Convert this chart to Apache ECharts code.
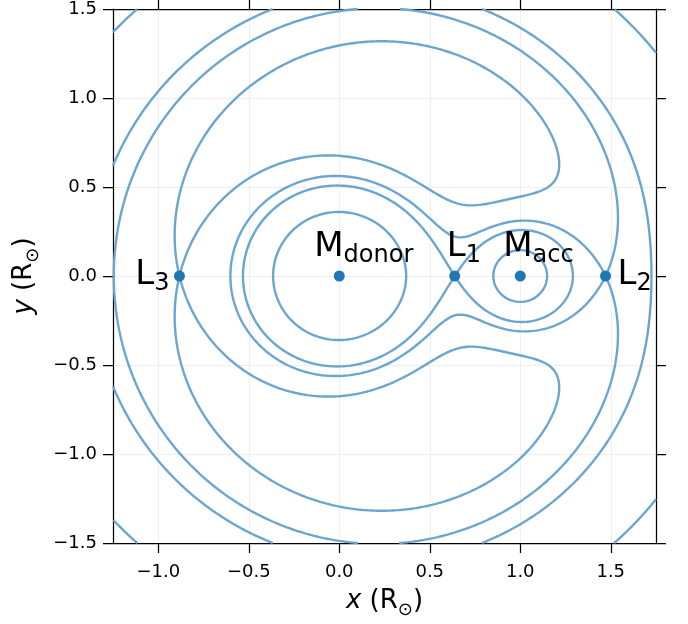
<!DOCTYPE html>
<html><head><meta charset="utf-8">
<script src="https://cdn.jsdelivr.net/npm/echarts@6/dist/echarts.min.js"></script>
<style>html,body{margin:0;padding:0;background:#fff}#c{width:688px;height:624px}</style>
</head><body><div id="c"></div>
<script>
// ---- data ----
const massRatio = [0.25];                 // M_acc / M_donor (separation = 1)
const pointMain = ['M', 'M', 'L', 'L', 'L'];
const pointSub  = ['donor', 'acc', '1', '2', '3'];
const pointX    = [0, 1, 0.638, 1.471, -0.883];
const pointY    = [0, 0, 0, 0, 0];
const extraLevels = [-3.12];              // innermost equipotential level
const levelThrough = ['1', '2', '3'];     // equipotentials through L1, L2, L3
const xTicks = [-1, -0.5, 0, 0.5, 1, 1.5];
const yTicks = [-1.5, -1, -0.5, 0, 0.5, 1, 1.5];
const xRange = [-1.25, 1.75];
const yRange = [-1.5, 1.5];

// ---- styles ----
const FONT = 'DejaVu Sans';
const LINE_COLOR = '#6ca6d0';
const DOT_COLOR = '#1f77b4';
const labelPlace = {
  donor: {align: 'left', verticalAlign: 'bottom', offset: [-25, -8]},
  acc:   {align: 'left', verticalAlign: 'bottom', offset: [-17, -8]},
  '1':   {align: 'left', verticalAlign: 'bottom', offset: [-8, -8]},
  '2':   {align: 'left', verticalAlign: 'middle', offset: [12, 3]},
  '3':   {align: 'right', verticalAlign: 'middle', offset: [-10, 3]}
};

// ---- Roche potential ----
const q = massRatio[0];
const xDonor = pointX[pointSub.indexOf('donor')];
const xAcc = pointX[pointSub.indexOf('acc')];
const sep = xAcc - xDonor;
const xcm = xDonor + sep * q / (1 + q);
function phi(x, y) {
  const r1 = Math.max(Math.hypot(x - xDonor, y), 1e-9);
  const r2 = Math.max(Math.hypot(x - xAcc, y), 1e-9);
  return -1 / r1 - q / r2 - 0.5 * (1 + q) * ((x - xcm) * (x - xcm) + y * y);
}
const levels = extraLevels.concat(levelThrough.map(s => {
  const k = pointSub.indexOf(s);
  return phi(pointX[k], pointY[k]);
}));

// ---- marching squares ----
const N = 721, NX = N + 1;
const x0 = xRange[0], y0 = yRange[0];
const dx = (xRange[1] - xRange[0]) / N, dy = (yRange[1] - yRange[0]) / N;
const F = new Float64Array(NX * NX);
for (let j = 0; j < NX; j++) for (let i = 0; i < NX; i++) F[j * NX + i] = phi(x0 + i * dx, y0 + j * dy);

function traceLevel(lev) {
  const ptOf = new Map(), adj = new Map(), segA = [], segB = [];
  const hk = (i, j) => 2 * (j * NX + i);
  const vk = (i, j) => 2 * (j * NX + i) + 1;
  function addPt(key, i1, j1, i2, j2) {
    if (ptOf.has(key)) return;
    const a = F[j1 * NX + i1], b = F[j2 * NX + i2];
    const t = (lev - a) / (b - a);
    const xa = x0 + i1 * dx, ya = y0 + j1 * dy, xb = x0 + i2 * dx, yb = y0 + j2 * dy;
    ptOf.set(key, [xa + (xb - xa) * t, ya + (yb - ya) * t]);
  }
  function addSeg(k1, k2) {
    const id = segA.length; segA.push(k1); segB.push(k2);
    if (!adj.has(k1)) adj.set(k1, []); adj.get(k1).push(id);
    if (!adj.has(k2)) adj.set(k2, []); adj.get(k2).push(id);
  }
  for (let j = 0; j < N; j++) for (let i = 0; i < N; i++) {
    const v00 = F[j * NX + i], v10 = F[j * NX + i + 1], v11 = F[(j + 1) * NX + i + 1], v01 = F[(j + 1) * NX + i];
    const b00 = v00 > lev, b10 = v10 > lev, b11 = v11 > lev, b01 = v01 > lev;
    const cb = b00 !== b10, cr = b10 !== b11, ct = b11 !== b01, cl = b01 !== b00;
    const n = cb + cr + ct + cl;
    if (!n) continue;
    const kb = hk(i, j), kr = vk(i + 1, j), kt = hk(i, j + 1), kl = vk(i, j);
    if (cb) addPt(kb, i, j, i + 1, j);
    if (cr) addPt(kr, i + 1, j, i + 1, j + 1);
    if (ct) addPt(kt, i, j + 1, i + 1, j + 1);
    if (cl) addPt(kl, i, j, i, j + 1);
    if (n === 2) {
      const ks = [];
      if (cb) ks.push(kb); if (cr) ks.push(kr); if (ct) ks.push(kt); if (cl) ks.push(kl);
      addSeg(ks[0], ks[1]);
    } else if (n === 4) {
      const c = (v00 + v10 + v11 + v01) / 4 > lev;
      if (b00) { if (c) { addSeg(kb, kr); addSeg(kt, kl); } else { addSeg(kb, kl); addSeg(kr, kt); } }
      else { if (c) { addSeg(kb, kl); addSeg(kr, kt); } else { addSeg(kb, kr); addSeg(kt, kl); } }
    }
  }
  const used = new Uint8Array(segA.length);
  const chains = [];
  function walk(start) {
    const chain = [ptOf.get(start)];
    let cur = start;
    while (true) {
      const list = adj.get(cur);
      let nxt = -1;
      for (const s of list) if (!used[s]) { nxt = s; break; }
      if (nxt < 0) break;
      used[nxt] = 1;
      cur = segA[nxt] === cur ? segB[nxt] : segA[nxt];
      chain.push(ptOf.get(cur));
    }
    return chain;
  }
  for (const [k, list] of adj) if (list.length === 1 && !used[list[0]]) chains.push(walk(k));
  for (let s = 0; s < segA.length; s++) if (!used[s]) chains.push(walk(segA[s]));
  return chains.filter(c => c.length > 1);
}

const series = [];
levels.forEach(lev => {
  traceLevel(lev).forEach(chain => {
    series.push({
      type: 'line', data: chain, showSymbol: false, symbol: 'none', silent: true,
      animation: false, z: 2, lineStyle: {color: LINE_COLOR, width: 2.4}
    });
  });
});

series.push({
  type: 'scatter', symbolSize: 11, z: 5, animation: false, silent: true,
  itemStyle: {color: DOT_COLOR, opacity: 1},
  data: pointX.map((x, i) => ({
    value: [x, pointY[i]],
    label: Object.assign({show: true, position: 'inside'}, labelPlace[pointSub[i]])
  })),
  label: {
    show: true, position: 'inside', color: '#000', fontFamily: FONT,
    formatter: p => '{m|' + pointMain[p.dataIndex] + '}{s|' + pointSub[p.dataIndex] + '}',
    rich: {
      m: {fontSize: 34, lineHeight: 34, padding: [0, 0, 4, 0], verticalAlign: 'bottom', fontFamily: FONT, color: '#000'},
      s: {fontSize: 24, lineHeight: 24, verticalAlign: 'bottom', fontFamily: FONT, color: '#000'}
    }
  }
});

const fmt = v => v.toFixed(1).replace('-', '\u2212');
const axLine = {show: true, onZero: false, lineStyle: {color: '#000', width: 1.25}};
const tick = vals => ({show: true, customValues: vals, length: 10, lineStyle: {color: '#000', width: 1.25}});
const nameStyle = {
  fontFamily: FONT, fontSize: 26, color: '#000',
  rich: {
    i: {fontFamily: FONT, fontSize: 26, fontStyle: 'italic', color: '#000', padding: [0, 0, 5, 0], verticalAlign: 'bottom'},
    n: {fontFamily: FONT, fontSize: 26, color: '#000', padding: [0, 0, 5, 0], verticalAlign: 'bottom'},
    s: {fontFamily: FONT, fontSize: 18, color: '#000', verticalAlign: 'bottom'}
  }
};

const chart = echarts.init(document.getElementById('c'), null, {renderer: 'canvas'});
chart.setOption({
  backgroundColor: '#fff',
  animation: false,
  grid: {left: 113, right: 32, top: 8, bottom: 76, containLabel: false},
  xAxis: [
    {type: 'value', position: 'bottom', min: xRange[0], max: xRange[1], splitNumber: 6,
     axisLine: axLine, axisTick: tick(xTicks),
     axisLabel: {customValues: xTicks, formatter: fmt, fontSize: 18, color: '#000', fontFamily: FONT, margin: 20},
     splitLine: {show: true, lineStyle: {color: '#efefef', width: 1}},
     name: '{i|x}{n| (R}{s|\u2299}{n|)}', nameLocation: 'middle', nameGap: 45, nameTextStyle: nameStyle},
    {type: 'value', position: 'top', min: xRange[0], max: xRange[1], splitNumber: 6,
     axisLine: axLine, axisTick: tick(xTicks), axisLabel: {show: false}, splitLine: {show: false}}
  ],
  yAxis: [
    {type: 'value', position: 'left', min: yRange[0], max: yRange[1], interval: 0.5,
     axisLine: axLine, axisTick: tick(yTicks),
     axisLabel: {customValues: yTicks, formatter: fmt, fontSize: 18, color: '#000', fontFamily: FONT, margin: 16},
     splitLine: {show: true, lineStyle: {color: '#efefef', width: 1}},
     name: '{i|y}{n| (R}{s|\u2299}{n|)}', nameLocation: 'middle', nameGap: 64, nameTextStyle: nameStyle},
    {type: 'value', position: 'right', min: yRange[0], max: yRange[1], interval: 0.5,
     axisLine: axLine, axisTick: tick(yTicks), axisLabel: {show: false}, splitLine: {show: false}}
  ],
  series: series
});
</script>
</body></html>
